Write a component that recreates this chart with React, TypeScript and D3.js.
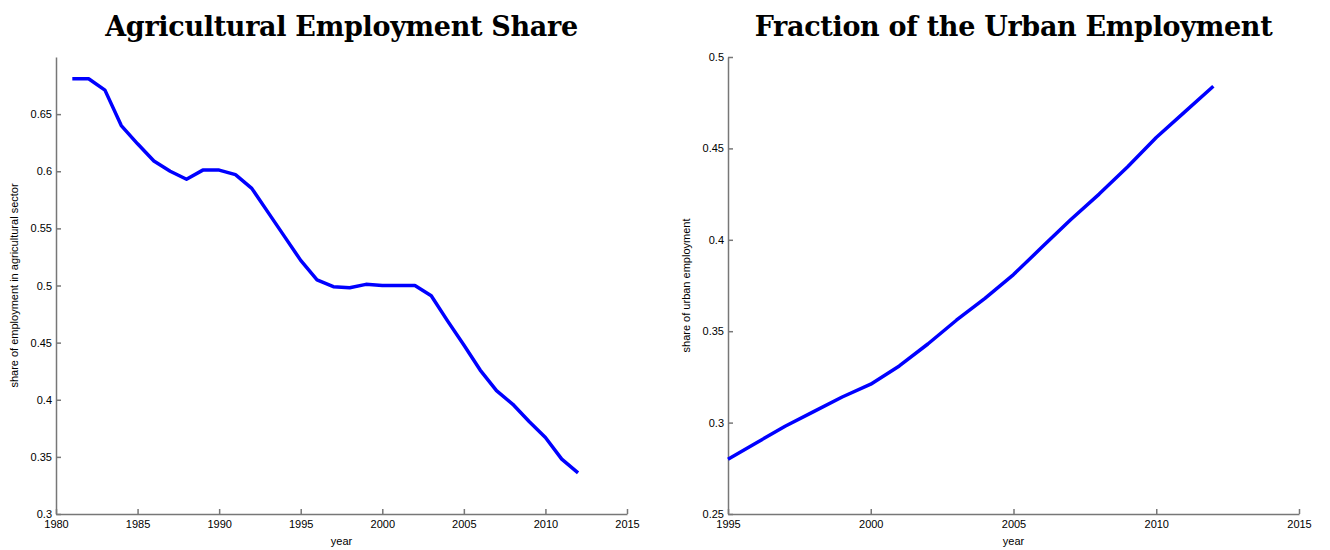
import React, { useRef, useEffect } from "react";
import * as d3 from "d3";

const agriYears = d3.range(1981, 2013);
const agriShare = [
  0.681, 0.681, 0.671, 0.64, 0.624, 0.609, 0.6, 0.593, 0.601, 0.601, 0.597, 0.585,
  0.564, 0.543, 0.522, 0.505, 0.499, 0.498, 0.501, 0.5, 0.5, 0.5, 0.491, 0.469,
  0.448, 0.426, 0.408, 0.396, 0.381, 0.367, 0.348, 0.336,
];
const urbanYears = d3.range(1995, 2013);
const urbanShare = [
  0.28, 0.289, 0.298, 0.306, 0.314, 0.321, 0.331, 0.343, 0.356, 0.368, 0.381,
  0.396, 0.411, 0.425, 0.44, 0.456, 0.47, 0.484,
];

const panels = [
  {
    title: "Agricultural Employment Share",
    ylabel: "share of employment in agricultural sector",
    years: agriYears,
    values: agriShare,
    xDomain: [1980, 2015],
    xTicks: [1980, 1985, 1990, 1995, 2000, 2005, 2010, 2015],
    yDomain: [0.3, 0.7],
    yTicks: [0.3, 0.35, 0.4, 0.45, 0.5, 0.55, 0.6, 0.65],
    left: 56,
    right: 627,
  },
  {
    title: "Fraction of the Urban Employment",
    ylabel: "share of urban employment",
    years: urbanYears,
    values: urbanShare,
    xDomain: [1995, 2015],
    xTicks: [1995, 2000, 2005, 2010, 2015],
    yDomain: [0.25, 0.5],
    yTicks: [0.25, 0.3, 0.35, 0.4, 0.45, 0.5],
    left: 728,
    right: 1299,
  },
];

const App: React.FC = () => {
  const svgRef = useRef<SVGSVGElement | null>(null);

  useEffect(() => {
    if (!svgRef.current) return;
    const svg = d3.select(svgRef.current);
    svg.selectAll("*").remove();
    const top = 57;
    const bottom = 514;

    panels.forEach((p) => {
      const x = d3.scaleLinear().domain(p.xDomain).range([p.left, p.right]);
      const y = d3.scaleLinear().domain(p.yDomain).range([bottom, top]);
      const g = svg.append("g");

      g.append("text")
        .attr("x", (p.left + p.right) / 2)
        .attr("y", 36)
        .attr("text-anchor", "middle")
        .attr("font-family", "'DejaVu Serif', serif")
        .attr("font-weight", "bold")
        .attr("font-size", 27)
        .attr("letter-spacing", -0.3)
        .text(p.title);

      const xAxis = g
        .append("g")
        .attr("transform", `translate(0,${bottom})`)
        .call(
          d3.axisBottom(x).tickValues(p.xTicks).tickFormat(d3.format("d")).tickSizeInner(-5).tickSizeOuter(0)
        );
      xAxis.selectAll("text").attr("y", 4).attr("dy", "0.95em");

      const yAxis = g
        .append("g")
        .attr("transform", `translate(${p.left},0)`)
        .call(
          d3.axisLeft(y).tickValues(p.yTicks).tickFormat((d) => `${+d}`).tickSizeInner(-5).tickSizeOuter(0)
        );
      yAxis.selectAll("text").attr("x", -4);

      g.selectAll(".domain, .tick line").attr("stroke", "#777").attr("stroke-width", 1.5);
      g.selectAll(".tick text")
        .attr("font-family", "'Liberation Sans', Arial, sans-serif")
        .attr("font-size", 11)
        .attr("fill", "#000");

      g.append("text")
        .attr("x", (p.left + p.right) / 2)
        .attr("y", 545)
        .attr("text-anchor", "middle")
        .attr("font-family", "'Liberation Sans', Arial, sans-serif")
        .attr("font-size", 11)
        .text("year");

      g.append("text")
        .attr("transform", `translate(${p.left - 38},${(top + bottom) / 2}) rotate(-90)`)
        .attr("text-anchor", "middle")
        .attr("font-family", "'Liberation Sans', Arial, sans-serif")
        .attr("font-size", 11)
        .text(p.ylabel);

      const line = d3
        .line<number>()
        .x((_, i) => x(p.years[i]))
        .y((d) => y(d));
      g.append("path")
        .datum(p.values)
        .attr("d", line)
        .attr("fill", "none")
        .attr("stroke", "#0000ff")
        .attr("stroke-width", 3.5)
        .attr("stroke-linejoin", "round");
    });
  }, []);

  return (
    <svg
      ref={svgRef}
      width={1330}
      height={550}
      style={{ position: "absolute", left: 0, top: 0, background: "#fff" }}
    />
  );
};

export default App;
